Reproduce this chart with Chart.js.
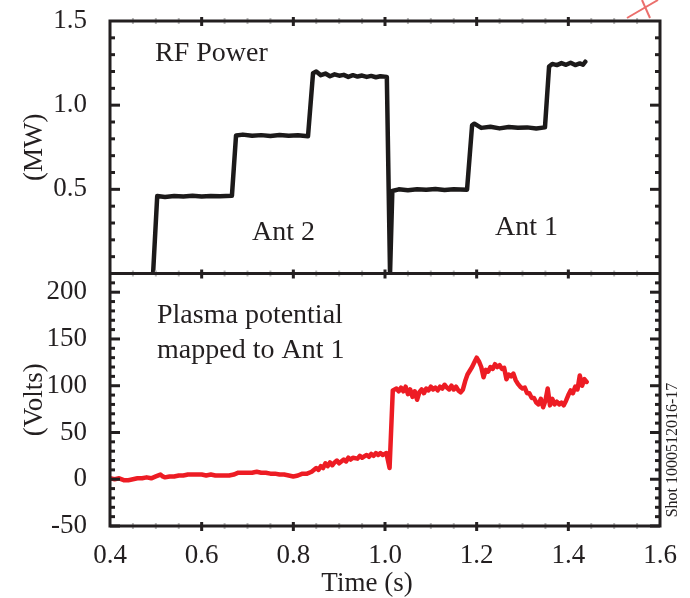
<!DOCTYPE html>
<html>
<head>
<meta charset="utf-8">
<script src="https://cdn.jsdelivr.net/npm/chart.js@4.4.1/dist/chart.umd.min.js"></script>
<style>
  html, body { margin: 0; padding: 0; background: #fff; }
  canvas { display: block; }
</style>
</head>
<body>
<canvas id="shot" width="690" height="598"></canvas>
<script>
// tick labels
const xTicks = [0.4, 0.6, 0.8, 1.0, 1.2, 1.4, 1.6];
const yTopTicks = [0.5, 1.0, 1.5];
const yBotTicks = [-50, 0, 50, 100, 150, 200];

// RF power (MW) vs time (s)
const rfTime = [0.494, 0.503, 0.52, 0.54, 0.56, 0.58, 0.60, 0.62, 0.64, 0.666,
  0.675, 0.69, 0.71, 0.73, 0.75, 0.77, 0.79, 0.81, 0.832,
  0.843, 0.85, 0.86, 0.87, 0.88, 0.89, 0.90, 0.91, 0.92, 0.93, 0.94, 0.95, 0.96, 0.97, 0.98, 0.99, 1.004,
  1.011, 1.016, 1.03, 1.05, 1.07, 1.09, 1.11, 1.13, 1.15, 1.179,
  1.19, 1.195, 1.21, 1.23, 1.25, 1.27, 1.29, 1.31, 1.33, 1.349,
  1.358, 1.365, 1.375, 1.385, 1.395, 1.405, 1.415, 1.425, 1.432, 1.437];
const rfPower = [0, 0.46, 0.455, 0.46, 0.458, 0.462, 0.457, 0.461, 0.459, 0.462,
  0.82, 0.825, 0.818, 0.822, 0.817, 0.823, 0.819, 0.821, 0.815,
  1.19, 1.2, 1.178, 1.188, 1.172, 1.183, 1.175, 1.18, 1.168, 1.178, 1.17, 1.176, 1.168, 1.174, 1.166, 1.172, 1.168,
  0, 0.49, 0.5, 0.495, 0.5, 0.497, 0.502, 0.496, 0.5, 0.498,
  0.88, 0.89, 0.865, 0.872, 0.862, 0.87, 0.866, 0.868, 0.862, 0.868,
  1.23, 1.245, 1.238, 1.25, 1.24, 1.252, 1.238, 1.248, 1.24, 1.258];

// plasma potential (V) vs time (s)
const vTime = [0.40, 0.41, 0.42, 0.43, 0.44, 0.45, 0.46, 0.47, 0.48, 0.49,
  0.50, 0.51, 0.515, 0.52, 0.53, 0.54, 0.55, 0.56, 0.57, 0.58, 0.59,
  0.60, 0.61, 0.62, 0.63, 0.64, 0.65, 0.66, 0.67, 0.68, 0.69,
  0.70, 0.71, 0.72, 0.73, 0.74, 0.75, 0.76, 0.77, 0.78, 0.79,
  0.80, 0.81, 0.82, 0.83, 0.84, 0.85, 0.855, 0.86, 0.865, 0.87, 0.875, 0.88, 0.885, 0.89, 0.895,
  0.90, 0.91, 0.915, 0.92, 0.925, 0.93, 0.94, 0.945, 0.95, 0.96, 0.965, 0.97, 0.975, 0.98, 0.985, 0.99, 0.995,
  1.003, 1.010, 1.017, 1.025, 1.03, 1.035, 1.04, 1.045, 1.05, 1.055, 1.06, 1.065, 1.07, 1.075, 1.08, 1.085, 1.09, 1.095,
  1.10, 1.105, 1.11, 1.115, 1.12, 1.125, 1.13, 1.135, 1.14, 1.145, 1.15, 1.155, 1.16, 1.165, 1.17, 1.175, 1.18, 1.185, 1.19, 1.195,
  1.20, 1.205, 1.21, 1.215, 1.22, 1.225, 1.23, 1.235, 1.24, 1.245, 1.25, 1.255, 1.26, 1.265, 1.27, 1.275, 1.28, 1.285, 1.29, 1.295,
  1.30, 1.305, 1.31, 1.315, 1.32, 1.325, 1.33, 1.335, 1.34, 1.345, 1.35, 1.355, 1.36, 1.365, 1.37, 1.375, 1.38, 1.385, 1.39, 1.395,
  1.40, 1.405, 1.41, 1.415, 1.42, 1.425, 1.43, 1.435, 1.44];
const vPot = [1, 0, 1, -1, -1, 0, 1, 1, 2, 1,
  3, 5, 3, 2, 3, 3, 4, 4, 5, 5, 5,
  5, 4, 5, 4, 4, 4, 4, 5, 7, 7,
  7, 7, 8, 7, 7, 6, 6, 5, 5, 4,
  3, 4, 6, 6, 8, 12, 10, 14, 12, 17, 14, 18, 15, 18, 20,
  17, 21, 19, 23, 21, 23, 22, 25, 23, 26, 24, 27, 25, 28, 26, 28, 26,
  28, 12, 95, 97, 94, 98, 94, 99, 91, 96, 88, 94, 85, 93, 96, 92, 97, 95,
  99, 96, 98, 95, 99, 97, 101, 98, 96, 100, 96, 99, 95, 93, 96, 105, 112, 116, 120, 125,
  130, 126, 120, 109, 117, 115, 120, 118, 123, 120, 122, 118, 119, 107, 112, 110, 113, 106, 102, 99,
  97, 98, 92, 92, 87, 87, 82, 80, 86, 77, 84, 97, 79, 86, 80, 83, 80, 82, 79, 84,
  90, 95, 92, 99, 96, 111, 100, 107, 104];

const INK = '#231f20';
const SERIF = '"Liberation Serif", "Times New Roman", serif';

const frame = {
  id: 'frame',
  afterDraw(chart) {
    const { ctx, chartArea: a, scales } = chart;
    const top = scales.yTop, bot = scales.yBot, x = scales.x;
    ctx.save();

    // minor x ticks (light grey)
    ctx.strokeStyle = '#b8b8b8';
    ctx.lineWidth = 2;
    for (let i = 1; i < 24; i++) {
      const px = x.getPixelForValue(0.4 + i * 0.05);
      [a.top, top.bottom, a.bottom].forEach(py => {
        ctx.beginPath(); ctx.moveTo(px, py - 3); ctx.lineTo(px, py + 3); ctx.stroke();
      });
    }

    // frame and panel divider
    ctx.strokeStyle = INK;
    ctx.lineWidth = 3;
    ctx.strokeRect(a.left, a.top, a.right - a.left, a.bottom - a.top);
    ctx.beginPath(); ctx.moveTo(a.left, top.bottom); ctx.lineTo(a.right, top.bottom); ctx.stroke();

    // major x ticks
    xTicks.slice(1, -1).forEach(v => {
      const px = x.getPixelForValue(v);
      [a.top, top.bottom, a.bottom].forEach(py => {
        ctx.beginPath(); ctx.moveTo(px, py - 4); ctx.lineTo(px, py + 5); ctx.stroke();
      });
    });

    // y ticks, inward on both sides
    const yTick = (s, v, len) => {
      const py = s.getPixelForValue(v);
      ctx.beginPath(); ctx.moveTo(a.left, py); ctx.lineTo(a.left + len, py); ctx.stroke();
      ctx.beginPath(); ctx.moveTo(a.right, py); ctx.lineTo(a.right - len, py); ctx.stroke();
    };
    ctx.lineWidth = 3;
    for (let i = 1; i < 15; i++) {
      if (i % 5) yTick(top, i * 0.1, 5);
    }
    for (let i = -4; i < 22; i++) {
      if (i % 5) yTick(bot, i * 10, 5);
    }
    yTopTicks.slice(0, -1).forEach(v => yTick(top, v, 10));
    yBotTicks.forEach(v => yTick(bot, v, 10));

    // panel labels
    ctx.fillStyle = INK;
    ctx.font = '28px ' + SERIF;
    ctx.textAlign = 'left';
    ctx.textBaseline = 'alphabetic';
    ctx.fillText('RF Power', 155, 61);
    ctx.fillText('Ant 2', 252, 240);
    ctx.fillText('Ant 1', 495, 235);
    ctx.fillText('Plasma potential', 157, 323);
    ctx.fillText('mapped to Ant 1', 157, 358);

    // x axis title
    ctx.font = '27px ' + SERIF;
    ctx.textAlign = 'center';
    ctx.fillText('Time (s)', 367, 591);

    // shot number
    ctx.save();
    ctx.translate(677, 450);
    ctx.rotate(-Math.PI / 2);
    ctx.font = '16px ' + SERIF;
    ctx.fillText('Shot 1000512016-17', 0, 0);
    ctx.restore();

    // stray red mark at the top-right corner
    ctx.strokeStyle = '#eb6f6c';
    ctx.lineWidth = 2;
    ctx.beginPath(); ctx.moveTo(627, 18); ctx.lineTo(658, 0); ctx.stroke();
    ctx.beginPath(); ctx.moveTo(642, 0); ctx.lineTo(650, 18); ctx.stroke();

    ctx.restore();
  }
};

const tickFont = { family: SERIF, size: 27 };
const noPad = s => { s.paddingTop = 0; s.paddingBottom = 0; s.paddingLeft = 0; s.paddingRight = 0; };

new Chart(document.getElementById('shot'), {
  type: 'line',
  data: {
    datasets: [{
      label: 'RF Power',
      data: rfTime.map((t, i) => ({ x: t, y: rfPower[i] })),
      yAxisID: 'yTop',
      borderColor: '#1c1a1a',
      borderWidth: 4.5,
      borderJoinStyle: 'round',
      borderCapStyle: 'round',
      pointRadius: 0,
      tension: 0
    }, {
      label: 'Plasma potential',
      data: vTime.map((t, i) => ({ x: t, y: vPot[i] })),
      yAxisID: 'yBot',
      borderColor: '#ed1c24',
      borderWidth: 4.5,
      borderJoinStyle: 'round',
      borderCapStyle: 'round',
      pointRadius: 0,
      tension: 0
    }]
  },
  options: {
    responsive: false,
    animation: false,
    devicePixelRatio: 1,
    layout: { padding: { top: 21, right: 30, left: 0, bottom: 0 } },
    plugins: { legend: { display: false }, tooltip: { enabled: false } },
    scales: {
      x: {
        type: 'linear',
        min: 0.4,
        max: 1.6,
        grid: { display: false },
        border: { display: false },
        afterBuildTicks: s => { s.ticks = xTicks.map(v => ({ value: v })); },
        afterFit: s => { s.height = 72; noPad(s); },
        ticks: { font: tickFont, color: INK, padding: 6, maxRotation: 0, autoSkip: false, callback: v => v.toFixed(1) }
      },
      yBot: {
        type: 'linear',
        position: 'left',
        stack: 'panels',
        stackWeight: 1,
        min: -50,
        max: 220,
        grid: { display: false },
        border: { display: false },
        afterBuildTicks: s => { s.ticks = yBotTicks.map(v => ({ value: v })); },
        afterFit: s => { s.width = 110; noPad(s); },
        ticks: { font: tickFont, color: INK, padding: 15, autoSkip: false },
        title: { display: true, text: '(Volts)', font: tickFont, color: INK, padding: { top: 19 } }
      },
      yTop: {
        type: 'linear',
        position: 'left',
        stack: 'panels',
        stackWeight: 1,
        min: 0,
        max: 1.5,
        grid: { display: false },
        border: { display: false },
        afterBuildTicks: s => { s.ticks = yTopTicks.map(v => ({ value: v })); },
        afterFit: s => { s.width = 110; noPad(s); },
        ticks: { font: tickFont, color: INK, padding: 15, autoSkip: false, callback: v => v.toFixed(1) },
        title: { display: true, text: '(MW)', font: tickFont, color: INK, padding: { top: 19 } }
      }
    }
  },
  plugins: [frame]
});
</script>
</body>
</html>
